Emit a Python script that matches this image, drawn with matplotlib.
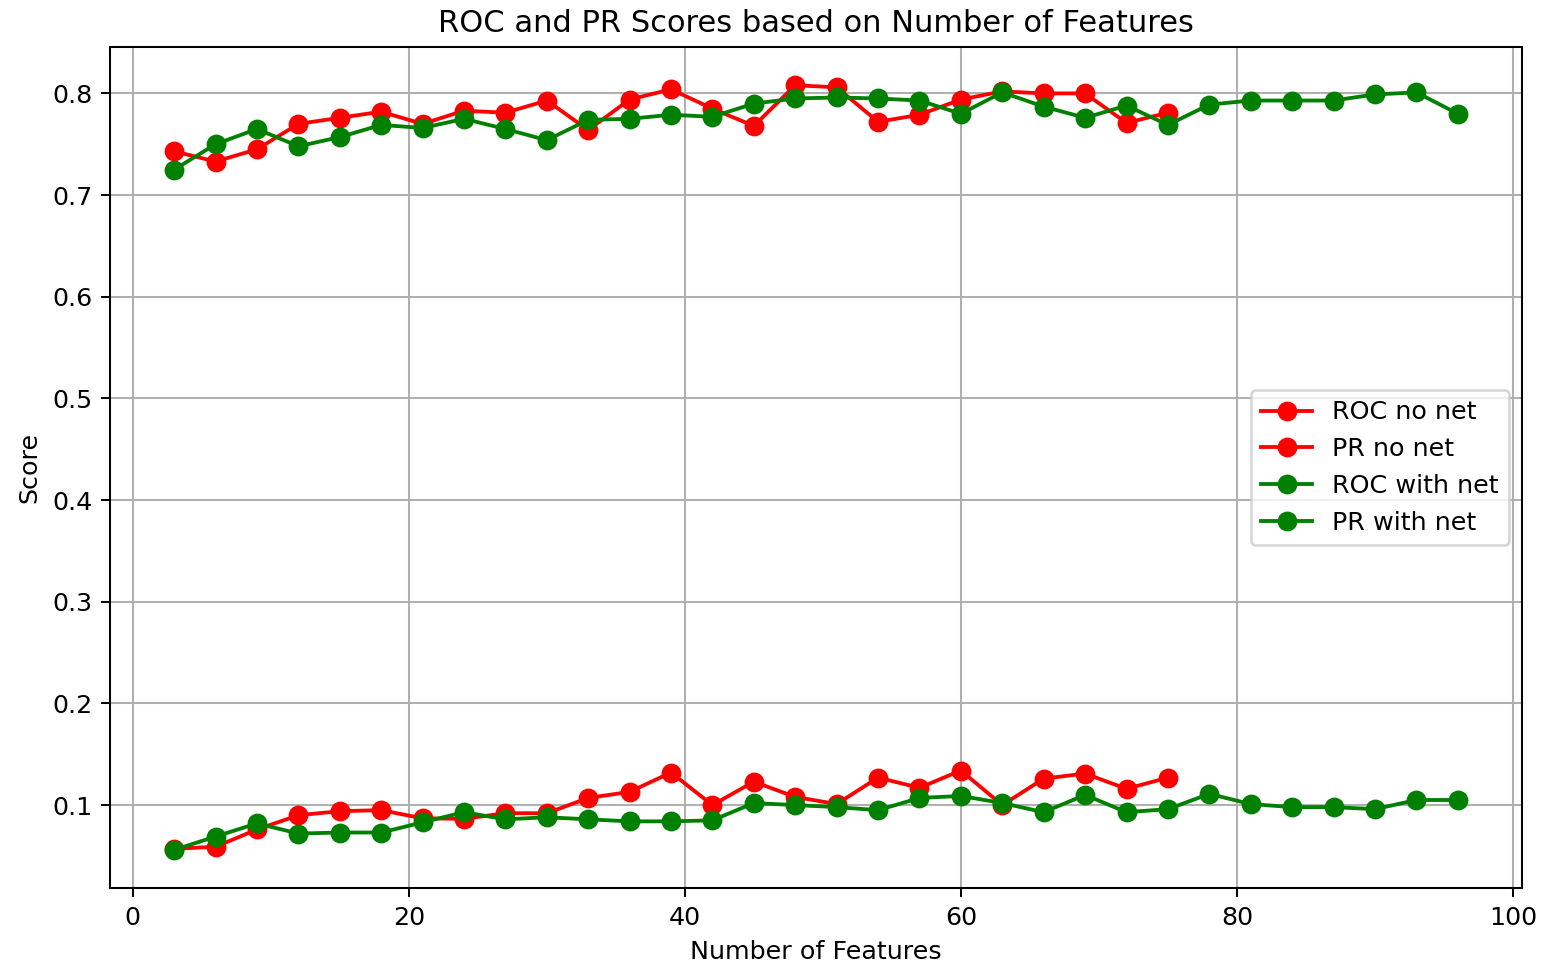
import matplotlib
matplotlib.use("Agg")
import matplotlib.pyplot as plt

features_no_net = list(range(3, 76, 3))
features_net = list(range(3, 97, 3))

roc_no_net = [0.743, 0.733, 0.745, 0.770, 0.776, 0.782, 0.770, 0.783, 0.781, 0.793,
              0.764, 0.794, 0.804, 0.785, 0.768, 0.808, 0.806, 0.772, 0.779, 0.794,
              0.802, 0.800, 0.800, 0.771, 0.781]
pr_no_net = [0.057, 0.059, 0.076, 0.090, 0.094, 0.095, 0.087, 0.0865, 0.092, 0.092,
             0.107, 0.113, 0.132, 0.100, 0.123, 0.108, 0.101, 0.127, 0.117, 0.134,
             0.100, 0.126, 0.131, 0.116, 0.127]
roc_net = [0.725, 0.750, 0.765, 0.748, 0.757, 0.769, 0.766, 0.775, 0.765, 0.754,
           0.774, 0.775, 0.779, 0.777, 0.790, 0.795, 0.796, 0.795, 0.793, 0.780,
           0.801, 0.787, 0.776, 0.788, 0.769, 0.789, 0.793, 0.793, 0.793, 0.799,
           0.801, 0.780]
pr_net = [0.056, 0.069, 0.082, 0.072, 0.073, 0.073, 0.083, 0.093, 0.086, 0.088,
          0.086, 0.084, 0.084, 0.085, 0.102, 0.100, 0.098, 0.095, 0.107, 0.109,
          0.102, 0.093, 0.110, 0.093, 0.096, 0.111, 0.101, 0.098, 0.098, 0.096,
          0.105, 0.105]

DPI = 183
fig = plt.figure(figsize=(1542 / DPI, 966 / DPI), dpi=DPI)
ax = fig.add_subplot(111)
fig.subplots_adjust(left=0.0713, right=0.987, top=0.9513, bottom=0.0807)

ms = 6.8
ax.plot(features_no_net, roc_no_net, 'o-', color='red', label='ROC no net', markersize=ms)
ax.plot(features_no_net, pr_no_net, 'o-', color='red', label='PR no net', markersize=ms)
ax.plot(features_net, roc_net, 'o-', color='green', label='ROC with net', markersize=ms)
ax.plot(features_net, pr_net, 'o-', color='green', label='PR with net', markersize=ms)

ax.set_title('ROC and PR Scores based on Number of Features')
ax.set_xlabel('Number of Features')
ax.set_ylabel('Score')
ax.grid(True)
ax.legend(loc='center right')

fig.savefig('out.png', dpi=DPI)
